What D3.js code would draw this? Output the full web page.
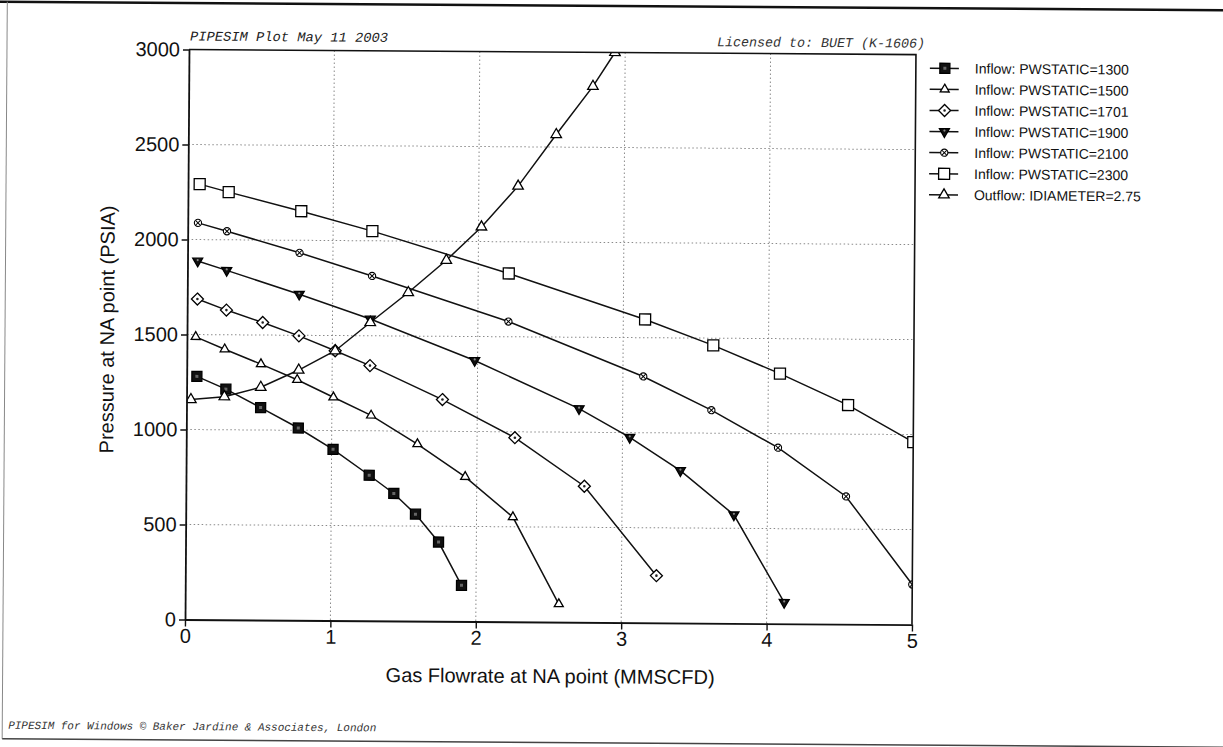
<!DOCTYPE html>
<html><head><meta charset="utf-8">
<script src="https://cdn.jsdelivr.net/npm/d3@7"></script>
<style>body{margin:0;background:#fff}svg{display:block}</style>
</head><body>
<svg id="chart" width="1223" height="747"></svg>
<script>
// Axis ticks
const rateTicks = [0, 1, 2, 3, 4, 5];
const pressureTicks = [0, 500, 1000, 1500, 2000, 2500, 3000];

// Inflow (IPR) curves, gas rate in MMSCFD vs pressure in psia
const q1300 = [0.07, 0.27, 0.51, 0.77, 1.01, 1.26, 1.43, 1.58, 1.74, 1.90];
const p1300 = [1280, 1214, 1118, 1012, 901, 766, 671, 563, 417, 190];

const q1500 = [0.06, 0.26, 0.51, 0.76, 1.01, 1.27, 1.59, 1.92, 2.25, 2.57];
const p1500 = [1488, 1424, 1347, 1266, 1175, 1081, 932, 761, 551, 95];

const q1701 = [0.07, 0.27, 0.52, 0.77, 1.02, 1.26, 1.76, 2.26, 2.74, 3.24];
const p1701 = [1687, 1630, 1566, 1497, 1420, 1343, 1167, 969, 716, 248];

const q1900 = [0.07, 0.27, 0.77, 1.26, 1.98, 2.70, 3.05, 3.40, 3.77, 4.12];
const p1900 = [1887, 1839, 1716, 1588, 1374, 1124, 975, 802, 571, 112];

const q2100 = [0.07, 0.27, 0.77, 1.27, 2.21, 3.14, 3.61, 4.07, 4.54, 5.00];
const p2100 = [2088, 2045, 1934, 1815, 1580, 1296, 1121, 926, 672, 211];

const q2300 = [0.08, 0.28, 0.78, 1.27, 2.21, 3.15, 3.62, 4.08, 4.55, 5.00];
const p2300 = [2292, 2251, 2153, 2051, 1833, 1596, 1462, 1316, 1153, 960];

// Outflow (tubing performance) curve
const qOut = [0.03, 0.26, 0.51, 0.77, 1.02, 1.26, 1.52, 1.78, 2.02, 2.27, 2.53, 2.78, 2.93];
const pOut = [1158, 1174, 1225, 1317, 1420, 1570, 1729, 1900, 2077, 2293, 2566, 2821, 3000];

const seriesNames = [
  "Inflow: PWSTATIC=1300", "Inflow: PWSTATIC=1500", "Inflow: PWSTATIC=1701",
  "Inflow: PWSTATIC=1900", "Inflow: PWSTATIC=2100", "Inflow: PWSTATIC=2300",
  "Outflow: IDIAMETER=2.75"
];
const seriesMarkers = ["fsq", "tri", "dia", "dtri", "xcirc", "osq", "otri"];
const seriesQ = [q1300, q1500, q1701, q1900, q2100, q2300, qOut];
const seriesP = [p1300, p1500, p1701, p1900, p2100, p2300, pOut];

const series = seriesNames.map((name, i) => ({
  name, marker: seriesMarkers[i],
  points: seriesQ[i].map((q, j) => ({ q, p: seriesP[i][j] }))
}));

const L = 185, R = 912, T = 49.5, B = 619.5;
const x = d3.scaleLinear().domain([0, 5]).range([L, R]);
const y = d3.scaleLinear().domain([0, 3000]).range([B, T]);

const svg = d3.select("#chart");
const root = svg.append("g").attr("transform", `rotate(0.4,${L},${B})`);

// page frame
root.append("line").attr("x1", -10).attr("x2", 1240).attr("y1", 3).attr("y2", 3)
  .attr("stroke", "#111").attr("stroke-width", 2.5);
root.append("line").attr("x1", 3).attr("x2", 3).attr("y1", 3).attr("y2", 740)
  .attr("stroke", "#888").attr("stroke-width", 1);
root.append("line").attr("x1", 3).attr("x2", 1240).attr("y1", 740).attr("y2", 740)
  .attr("stroke", "#444").attr("stroke-width", 1.5);

const mono = "'Liberation Mono','Courier New',monospace";
const sans = "'Liberation Sans',Arial,sans-serif";

root.append("text").attr("x", 186).attr("y", 40.5)
  .attr("font-family", mono).attr("font-style", "italic").attr("font-size", 13.5)
  .attr("textLength", 198).attr("lengthAdjust", "spacingAndGlyphs")
  .attr("fill", "#222").text("PIPESIM Plot May 11 2003");
root.append("text").attr("x", 713).attr("y", 42.5)
  .attr("font-family", mono).attr("font-style", "italic").attr("font-size", 13.5)
  .attr("textLength", 208).attr("lengthAdjust", "spacingAndGlyphs")
  .attr("fill", "#333").text("Licensed to: BUET (K-1606)");
root.append("text").attr("x", 9).attr("y", 730)
  .attr("font-family", mono).attr("font-style", "italic").attr("font-size", 11)
  .attr("textLength", 368).attr("lengthAdjust", "spacingAndGlyphs")
  .attr("fill", "#333").text("PIPESIM for Windows \u00A9 Baker Jardine & Associates, London");

// gridlines
const grid = root.append("g").attr("stroke", "#8a8a8a").attr("stroke-width", 1)
  .attr("stroke-dasharray", "1.5,2.5");
grid.selectAll("line.v").data(rateTicks.slice(1, -1)).join("line")
  .attr("x1", d => x(d)).attr("x2", d => x(d)).attr("y1", T).attr("y2", B);
grid.selectAll("line.h").data(pressureTicks.slice(1, -1)).join("line")
  .attr("x1", L).attr("x2", R).attr("y1", d => y(d)).attr("y2", d => y(d));

// clip to plot area
svg.append("defs").append("clipPath").attr("id", "plotClip")
  .append("rect").attr("x", L).attr("y", T).attr("width", R - L).attr("height", B - T);

function triPath(w, up) {
  const h = w * 0.866, s = up ? 1 : -1;
  return `M0,${-s * h * 2 / 3}L${w / 2},${s * h / 3}L${-w / 2},${s * h / 3}Z`;
}

function drawMarker(g, type) {
  const st = { stroke: "#000", "stroke-width": 1.3 };
  const apply = (sel) => { for (const k in st) sel.attr(k, st[k]); return sel; };
  switch (type) {
    case "fsq":
      apply(g.append("rect")).attr("x", -5).attr("y", -5).attr("width", 10).attr("height", 10).attr("fill", "#111");
      g.append("rect").attr("x", -1.5).attr("y", -1.5).attr("width", 3).attr("height", 3).attr("fill", "#666");
      break;
    case "tri":
      apply(g.append("path")).attr("d", triPath(9, true)).attr("fill", "#fff");
      break;
    case "otri":
      apply(g.append("path")).attr("d", triPath(10.5, true)).attr("fill", "#fff");
      break;
    case "dia":
      apply(g.append("path")).attr("d", "M0,-6L6,0L0,6L-6,0Z").attr("fill", "#fff");
      g.append("circle").attr("r", 1.3).attr("fill", "#222");
      break;
    case "dtri":
      apply(g.append("path")).attr("d", triPath(10, false)).attr("fill", "#111");
      g.append("circle").attr("r", 1.1).attr("cy", -1).attr("fill", "#888");
      break;
    case "xcirc":
      apply(g.append("circle")).attr("r", 3.6).attr("fill", "#fff").attr("stroke-width", 1.1);
      g.append("path").attr("d", "M-2.4,-2.4L2.4,2.4M-2.4,2.4L2.4,-2.4").attr("stroke", "#000").attr("stroke-width", 1);
      break;
    case "osq":
      apply(g.append("rect")).attr("x", -5.5).attr("y", -5.5).attr("width", 11).attr("height", 11).attr("fill", "#fff");
      break;
  }
}

const plot = root.append("g").attr("clip-path", "url(#plotClip)");
const line = d3.line().x(d => x(d.q)).y(d => y(d.p));

plot.selectAll("path.curve").data(series).join("path")
  .attr("class", "curve").attr("d", d => line(d.points))
  .attr("fill", "none").attr("stroke", "#111").attr("stroke-width", 1.5);

series.forEach(s => {
  plot.append("g").selectAll("g").data(s.points).join("g")
    .attr("transform", d => `translate(${x(d.q)},${y(d.p)})`)
    .each(function () { drawMarker(d3.select(this), s.marker); });
});

// plot frame (top and right)
root.append("path").attr("d", `M${L},${T}H${R}V${B}`)
  .attr("fill", "none").attr("stroke", "#111").attr("stroke-width", 1.6);

// axes
const fmt = d3.format("d");
const yAxis = root.append("g").attr("transform", `translate(${L},0)`)
  .call(d3.axisLeft(y).tickValues(pressureTicks).tickFormat(fmt).tickSize(6).tickSizeOuter(0).tickPadding(3));
const xAxis = root.append("g").attr("transform", `translate(0,${B})`)
  .call(d3.axisBottom(x).tickValues(rateTicks).tickFormat(fmt).tickSize(7).tickSizeOuter(0).tickPadding(2));
[xAxis, yAxis].forEach(a => {
  a.select(".domain").attr("stroke", "#111").attr("stroke-width", 1.8);
  a.selectAll(".tick line").attr("stroke", "#111").attr("stroke-width", 1.4);
  a.selectAll(".tick text").attr("font-family", sans).attr("font-size", 20).attr("fill", "#111");
});

root.append("text").attr("x", (L + R) / 2 + 2).attr("y", 680.5)
  .attr("text-anchor", "middle").attr("font-family", sans).attr("font-size", 20)
  .attr("fill", "#111").text("Gas Flowrate at NA point (MMSCFD)");
root.append("text").attr("transform", "translate(112,330) rotate(-90)")
  .attr("text-anchor", "middle").attr("font-family", sans).attr("font-size", 20)
  .attr("fill", "#111").text("Pressure at NA point (PSIA)");

// legend
const legend = root.append("g").attr("transform", "translate(941,63)");
const rows = legend.selectAll("g").data(series).join("g")
  .attr("transform", (d, i) => `translate(0,${i * 21.1})`);
rows.append("line").attr("x1", -15).attr("x2", 14).attr("stroke", "#111").attr("stroke-width", 1.5);
rows.each(function (d) { drawMarker(d3.select(this).append("g"), d.marker); });
rows.append("text").attr("x", 30).attr("y", 5).attr("font-family", sans).attr("font-size", 14)
  .attr("fill", "#111").text(d => d.name);
</script>
</body></html>
